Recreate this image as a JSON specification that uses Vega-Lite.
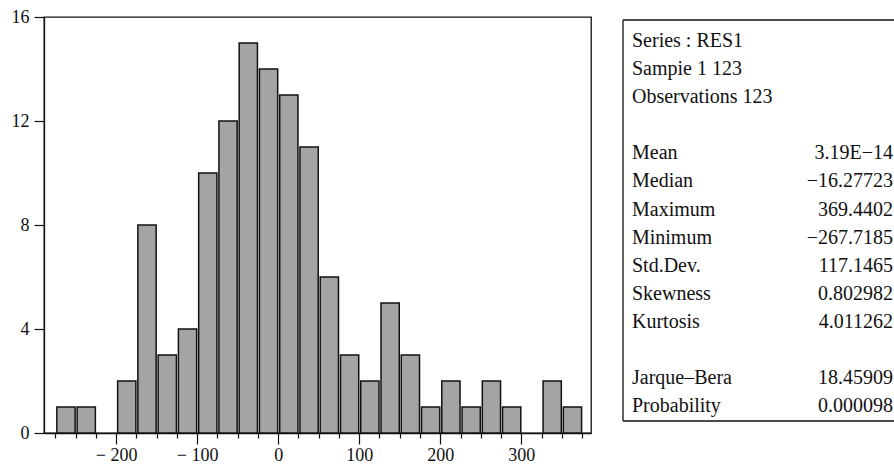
{
  "$schema": "https://vega.github.io/schema/vega-lite/v6.json",
  "padding": {"left": 10, "top": 7, "right": 0, "bottom": 0},
  "bounds": "flush",
  "spacing": 32,
  "config": {"view": {"stroke": null}, "font": "Liberation Serif", "background": "white"},
  "hconcat": [
    {
      "width": 547,
      "height": 416,
      "view": {"stroke": "#111111", "strokeWidth": 1.3},
      "data": {"values": [
        {"bin_start": -275, "bin_end": -250, "count": 1},
        {"bin_start": -250, "bin_end": -225, "count": 1},
        {"bin_start": -200, "bin_end": -175, "count": 2},
        {"bin_start": -175, "bin_end": -150, "count": 8},
        {"bin_start": -150, "bin_end": -125, "count": 3},
        {"bin_start": -125, "bin_end": -100, "count": 4},
        {"bin_start": -100, "bin_end": -75, "count": 10},
        {"bin_start": -75, "bin_end": -50, "count": 12},
        {"bin_start": -50, "bin_end": -25, "count": 15},
        {"bin_start": -25, "bin_end": 0, "count": 14},
        {"bin_start": 0, "bin_end": 25, "count": 13},
        {"bin_start": 25, "bin_end": 50, "count": 11},
        {"bin_start": 50, "bin_end": 75, "count": 6},
        {"bin_start": 75, "bin_end": 100, "count": 3},
        {"bin_start": 100, "bin_end": 125, "count": 2},
        {"bin_start": 125, "bin_end": 150, "count": 5},
        {"bin_start": 150, "bin_end": 175, "count": 3},
        {"bin_start": 175, "bin_end": 200, "count": 1},
        {"bin_start": 200, "bin_end": 225, "count": 2},
        {"bin_start": 225, "bin_end": 250, "count": 1},
        {"bin_start": 250, "bin_end": 275, "count": 2},
        {"bin_start": 275, "bin_end": 300, "count": 1},
        {"bin_start": 325, "bin_end": 350, "count": 2},
        {"bin_start": 350, "bin_end": 375, "count": 1}
      ]},
      "mark": {"type": "bar", "fill": "#a4a4a4", "stroke": "#111111", "strokeWidth": 1.5, "binSpacing": 2},
      "encoding": {
        "x": {
          "field": "bin_start", "type": "quantitative", "bin": "binned",
          "scale": {"domain": [-289, 386], "nice": false, "zero": false},
          "axis": {
            "title": null,
            "grid": false,
            "values": [-275, -250, -225, -200, -175, -150, -125, -100, -75, -50, -25, 0, 25, 50, 75, 100, 125, 150, 175, 200, 225, 250, 275, 300, 325, 350, 375],
            "labelExpr": "(datum.value % 100 === 0 && datum.value >= -200 && datum.value <= 300) ? (datum.value < 0 ? '\u2212 ' + abs(datum.value) : '' + datum.value) : ''",
            "tickSize": {"condition": {"test": "datum.value % 100 === 0", "value": 11}, "value": 5},
            "labelPadding": 2,
            "labelFlush": false,
            "labelOverlap": false,
            "labelFontSize": 18,
            "labelFont": "Liberation Serif",
            "labelColor": "#111111",
            "domainColor": "#111111",
            "tickColor": "#111111",
            "domainWidth": 1.3,
            "tickWidth": 1.2
          }
        },
        "x2": {"field": "bin_end"},
        "y": {
          "field": "count", "type": "quantitative",
          "scale": {"domain": [0, 16], "nice": false},
          "axis": {
            "title": null,
            "grid": false,
            "values": [0, 4, 8, 12, 16],
            "tickSize": 10,
            "labelPadding": 5,
            "labelFontSize": 18,
            "labelFont": "Liberation Serif",
            "labelColor": "#111111",
            "domainColor": "#111111",
            "tickColor": "#111111",
            "domainWidth": 1.3,
            "tickWidth": 1.2
          }
        }
      }
    },
    {
      "width": 272,
      "height": 404,
      "data": {"values": [
        {"row": 1, "label": "Series : RES1", "value": ""},
        {"row": 2, "label": "Sampie 1 123", "value": ""},
        {"row": 3, "label": "Observations 123", "value": ""},
        {"row": 5, "label": "Mean", "value": "3.19E\u221214"},
        {"row": 6, "label": "Median", "value": "\u221216.27723"},
        {"row": 7, "label": "Maximum", "value": "369.4402"},
        {"row": 8, "label": "Minimum", "value": "\u2212267.7185"},
        {"row": 9, "label": "Std.Dev.", "value": "117.1465"},
        {"row": 10, "label": "Skewness", "value": "0.802982"},
        {"row": 11, "label": "Kurtosis", "value": "4.011262"},
        {"row": 13, "label": "Jarque\u2013Bera", "value": "18.45909"},
        {"row": 14, "label": "Probability", "value": "0.000098"}
      ]},
      "layer": [
        {
          "mark": {"type": "text", "align": "left", "baseline": "middle", "fontSize": 20, "font": "Liberation Serif", "color": "#111111"},
          "encoding": {
            "y": {"field": "row", "type": "quantitative", "scale": {"domain": [0.145, 14.53], "reverse": true, "nice": false, "zero": false}, "axis": null},
            "x": {"datum": 0.033, "type": "quantitative", "scale": {"domain": [0, 1], "nice": false, "zero": false}, "axis": null},
            "text": {"field": "label"}
          }
        },
        {
          "mark": {"type": "text", "align": "right", "baseline": "middle", "fontSize": 20, "font": "Liberation Serif", "color": "#111111"},
          "encoding": {
            "y": {"field": "row", "type": "quantitative"},
            "x": {"datum": 0.993, "type": "quantitative"},
            "text": {"field": "value"}
          }
        },
        {
          "data": {"values": [{}]},
          "mark": {"type": "rule", "stroke": "#111111", "strokeWidth": 1.3},
          "encoding": {
            "y": {"datum": 0.252, "type": "quantitative"},
            "x": {"datum": 0, "type": "quantitative"},
            "x2": {"datum": 1}
          }
        },
        {
          "data": {"values": [{}]},
          "mark": {"type": "rule", "stroke": "#111111", "strokeWidth": 1.3},
          "encoding": {
            "y": {"datum": 14.53, "type": "quantitative"},
            "x": {"datum": 0, "type": "quantitative"},
            "x2": {"datum": 1}
          }
        },
        {
          "data": {"values": [{}]},
          "mark": {"type": "rule", "stroke": "#111111", "strokeWidth": 1.3},
          "encoding": {
            "x": {"datum": 0, "type": "quantitative"},
            "y": {"datum": 0.252, "type": "quantitative"},
            "y2": {"datum": 14.53}
          }
        }
      ]
    }
  ]
}
